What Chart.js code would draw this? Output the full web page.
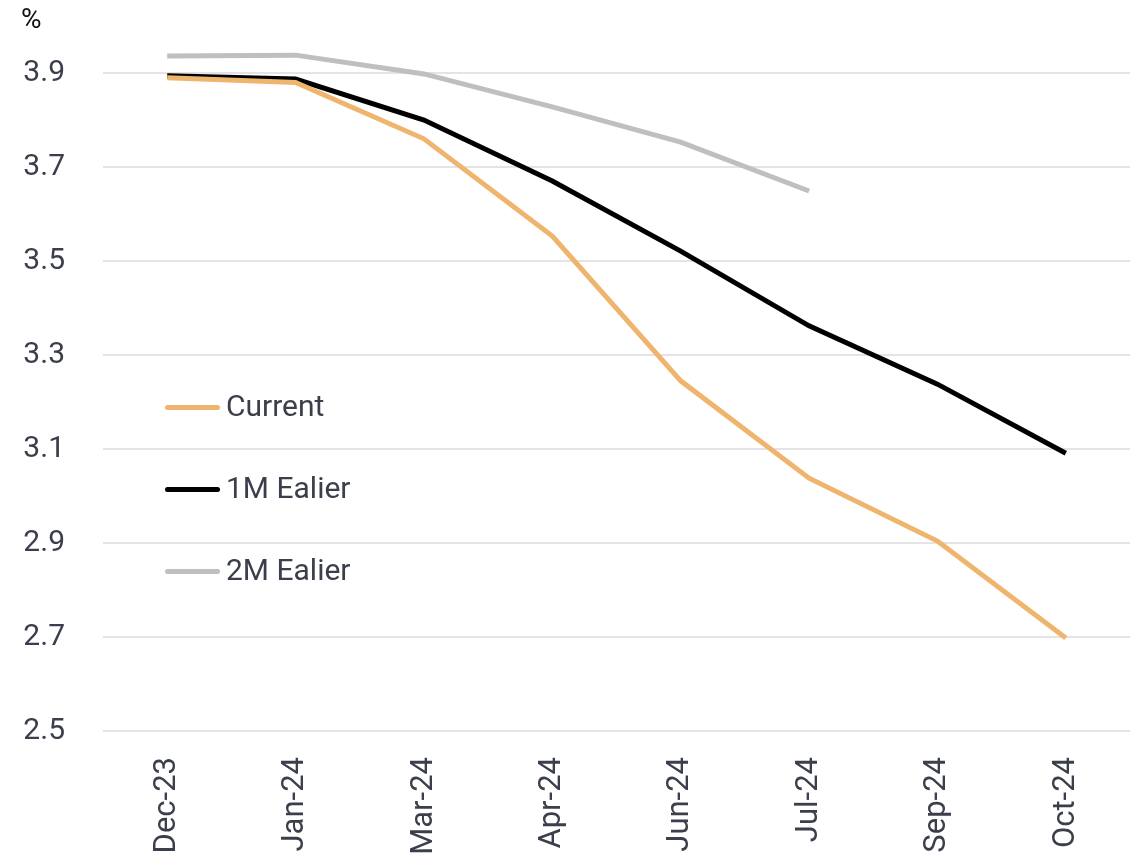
<!DOCTYPE html>
<html>
<head>
<meta charset="utf-8">
<script src="https://cdn.jsdelivr.net/npm/chart.js@4/dist/chart.umd.min.js"></script>
<style>
  html, body { margin: 0; padding: 0; background: #fff; }
  #wrap { position: relative; width: 1137px; height: 855px; font-family: Roboto, 'Open Sans', sans-serif; }
  #unit { position: absolute; left: 21px; top: 2px; font-size: 28px; color: #111; }
  .leg { position: absolute; left: 165px; height: 30px; font-size: 30px; color: #3b3e4b; white-space: nowrap; }
  .leg span.ln { position: absolute; left: 0; top: 13px; width: 55px; height: 5px; border-radius: 3px; }
  .leg span.tx { position: absolute; left: 61px; top: -4px; }
</style>
</head>
<body>
<div id="wrap">
  <canvas id="chart" width="1137" height="855"></canvas>
  <div id="unit">%</div>
  <div id="legend"></div>
</div>
<script>
// Dati del grafico
const categories = ['Dec-23', 'Jan-24', 'Mar-24', 'Apr-24', 'Jun-24', 'Jul-24', 'Sep-24', 'Oct-24'];
const current = [3.89, 3.88, 3.76, 3.553, 3.245, 3.038, 2.904, 2.698];
const oneMonthEarlier = [3.894, 3.887, 3.80, 3.67, 3.521, 3.362, 3.238, 3.091];
const twoMonthsEarlier = [3.936, 3.938, 3.898, 3.828, 3.753, 3.649, null, null];
const yTicks = [2.5, 2.7, 2.9, 3.1, 3.3, 3.5, 3.7, 3.9];

const seriesNames = ['Current', '1M Ealier', '2M Ealier'];
const seriesColors = ['#efb56f', '#000000', '#bfbfbf'];
const legendTops = [392, 474, 556];

const textColor = '#3b3e4b';
const fontFamily = "Roboto, 'Open Sans', sans-serif";

// Legenda personalizzata in HTML
const legendEl = document.getElementById('legend');
seriesNames.forEach((name, i) => {
  const item = document.createElement('div');
  item.className = 'leg';
  item.style.top = legendTops[i] + 'px';
  item.innerHTML = '<span class="ln" style="background:' + seriesColors[i] + '"></span><span class="tx">' + name + '</span>';
  legendEl.appendChild(item);
});

const makeDataset = (label, data, color) => ({
  label: label,
  data: data,
  borderColor: color,
  backgroundColor: color,
  borderWidth: 5,
  pointRadius: 0,
  tension: 0,
  spanGaps: false
});

new Chart(document.getElementById('chart'), {
  type: 'line',
  data: {
    labels: categories,
    datasets: [
      makeDataset(seriesNames[2], twoMonthsEarlier, seriesColors[2]),
      makeDataset(seriesNames[0], current, seriesColors[0]),
      makeDataset(seriesNames[1], oneMonthEarlier, seriesColors[1])
    ]
  },
  options: {
    responsive: false,
    animation: false,
    layout: { padding: { top: 26, right: 7, left: 0, bottom: 0 } },
    scales: {
      x: {
        offset: true,
        grid: { display: false, drawTicks: false },
        border: { display: false },
        // altezza fissa dell'asse e niente padding extra
        afterFit: s => { s.height = 124; s.paddingTop = 0; s.paddingBottom = 0; },
        ticks: {
          color: textColor,
          font: { family: fontFamily, size: 31 },
          minRotation: 90,
          maxRotation: 90,
          padding: 26
        }
      },
      y: {
        min: 2.5,
        max: 4.0,
        afterBuildTicks: s => { s.ticks = yTicks.map(v => ({ value: v })); },
        afterFit: s => { s.width = 103; s.paddingTop = 0; s.paddingBottom = 0; },
        grid: { color: '#e6e3e6', lineWidth: 2, drawTicks: false },
        border: { display: false },
        ticks: {
          color: textColor,
          font: { family: fontFamily, size: 30 },
          padding: 38,
          callback: v => v.toFixed(1)
        }
      }
    },
    plugins: {
      legend: { display: false },
      tooltip: { enabled: false }
    }
  }
});
</script>
</body>
</html>
